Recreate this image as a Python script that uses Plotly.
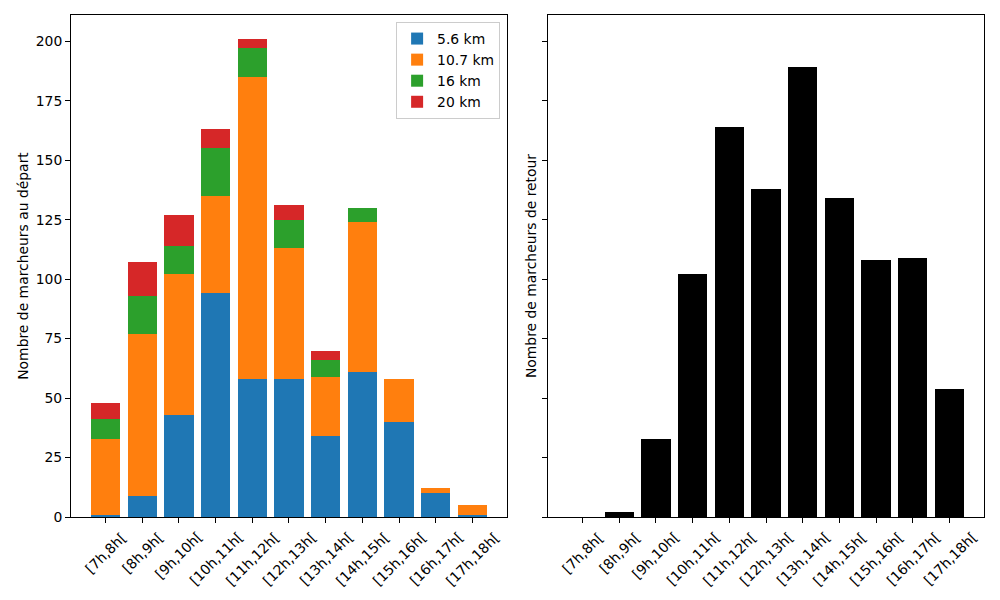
import plotly.graph_objects as go

categories = ["[7h,8h[", "[8h,9h[", "[9h,10h[", "[10h,11h[", "[11h,12h[", "[12h,13h[",
              "[13h,14h[", "[14h,15h[", "[15h,16h[", "[16h,17h[", "[17h,18h["]
series_names = ["5.6 km", "10.7 km", "16 km", "20 km"]
depart_56 = [1, 9, 43, 94, 58, 58, 34, 61, 40, 10, 1]
depart_107 = [32, 68, 59, 41, 127, 55, 25, 63, 18, 2, 4]
depart_16 = [8, 16, 12, 20, 12, 12, 7, 6, 0, 0, 0]
depart_20 = [7, 14, 13, 8, 4, 6, 4, 0, 0, 0, 0]
retour = [0, 2, 33, 102, 164, 138, 189, 134, 108, 109, 54]
y_ticks = [0, 25, 50, 75, 100, 125, 150, 175, 200]

colors = ["#1f77b4", "#ff7f0e", "#2ca02c", "#d62728"]
FONT = "DejaVu Sans"
FS = 13.9

xs = list(range(len(categories)))
fig = go.Figure()
for name, vals, c in zip(series_names, [depart_56, depart_107, depart_16, depart_20], colors):
    fig.add_trace(go.Bar(x=xs, y=vals, name=name, marker=dict(color=c, line=dict(width=0)),
                         xaxis="x", yaxis="y"))
fig.add_trace(go.Bar(x=xs, y=retour, name="retour", marker=dict(color="black", line=dict(width=0)),
                     xaxis="x2", yaxis="y2", showlegend=False))

total_max = max(a + b + c + d for a, b, c, d in zip(depart_56, depart_107, depart_16, depart_20))
ymax = total_max * 1.05
xr = [-0.94, len(categories) - 1 + 0.94]

axis_common = dict(showline=True, linecolor="black", linewidth=1, mirror=True,
                   ticks="outside", ticklen=5, tickwidth=1, tickcolor="black",
                   showgrid=False, zeroline=False, automargin=False,
                   tickfont=dict(family=FONT, size=FS, color="black"))

# page body has an 8px margin, so margins are shifted by 8px
fig.update_layout(
    template="none",
    width=1000, height=600,
    margin=dict(l=63, r=24, t=7, b=91, pad=0),
    paper_bgcolor="white", plot_bgcolor="white",
    barmode="stack", bargap=0.2,
    font=dict(family=FONT, size=FS, color="black"),
    xaxis=dict(domain=[0, 0.4775], range=xr, tickvals=xs, showticklabels=False, **axis_common),
    xaxis2=dict(domain=[0.5225, 1], range=xr, tickvals=xs, showticklabels=False, anchor="y2", **axis_common),
    yaxis=dict(range=[0, ymax], tickvals=y_ticks,
               title=dict(text="Nombre de marcheurs au départ", font=dict(family=FONT, size=FS), standoff=3),
               **axis_common),
    yaxis2=dict(range=[0, ymax], tickvals=y_ticks, showticklabels=False, anchor="x2",
                title=dict(text="Nombre de marcheurs de retour", font=dict(family=FONT, size=FS), standoff=2),
                **axis_common),
    legend=dict(x=0.47, y=0.986, xanchor="right", yanchor="top", traceorder="normal",
                bgcolor="rgba(255,255,255,0.8)", bordercolor="#cccccc", borderwidth=1,
                font=dict(family=FONT, size=FS)),
)

for xref, yref in [("x", "y domain"), ("x2", "y2 domain")]:
    for i, lab in enumerate(categories):
        fig.add_annotation(x=i, y=0, xref=xref, yref=yref, text=lab, showarrow=False,
                           textangle=-45, xanchor="center", yanchor="top", yshift=-9,
                           font=dict(family=FONT, size=FS, color="black"))

fig.write_html("out.html")
